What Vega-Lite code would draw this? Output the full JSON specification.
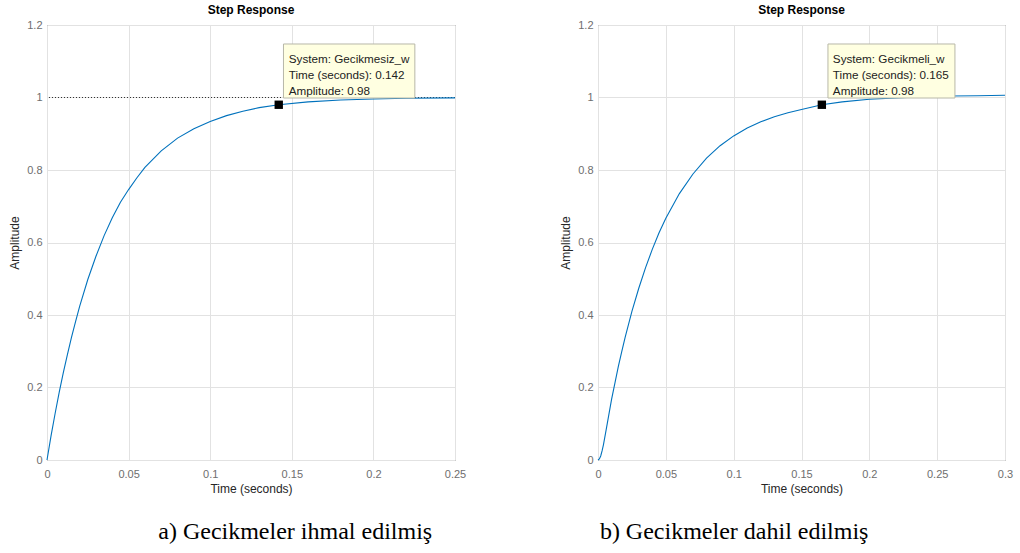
{
  "$schema": "https://vega.github.io/schema/vega-lite/v6.json",
  "background": "white",
  "padding": {"left": 8, "top": 3, "right": 5, "bottom": 5},
  "config": {
    "font": "Liberation Sans",
    "view": {"stroke": "#5a5a5a", "strokeWidth": 1},
    "axis": {
      "labelFont": "Liberation Sans",
      "labelFontSize": 11,
      "labelColor": "#6e6e6e",
      "labelFlush": false,
      "labelOverlap": false,
      "titleFont": "Liberation Sans",
      "titleFontSize": 12,
      "titleFontWeight": "normal",
      "titleColor": "#262626",
      "gridColor": "#e2e2e2",
      "gridWidth": 1,
      "domain": false,
      "ticks": false
    },
    "axisX": {"labelPadding": 8, "titlePadding": 4},
    "axisY": {"labelPadding": 5, "titlePadding": 5}
  },
  "datasets": {
    "left": [
      {"t": 0, "amp": 0}, {"t": 0.0025, "amp": 0.067}, {"t": 0.005, "amp": 0.129}, {"t": 0.0075, "amp": 0.187},
      {"t": 0.01, "amp": 0.241}, {"t": 0.0125, "amp": 0.291}, {"t": 0.015, "amp": 0.338}, {"t": 0.0175, "amp": 0.382},
      {"t": 0.02, "amp": 0.424}, {"t": 0.025, "amp": 0.498}, {"t": 0.03, "amp": 0.562}, {"t": 0.035, "amp": 0.619},
      {"t": 0.04, "amp": 0.668}, {"t": 0.045, "amp": 0.711}, {"t": 0.05, "amp": 0.746}, {"t": 0.055, "amp": 0.778},
      {"t": 0.06, "amp": 0.807}, {"t": 0.07, "amp": 0.853}, {"t": 0.08, "amp": 0.888}, {"t": 0.09, "amp": 0.914},
      {"t": 0.1, "amp": 0.934}, {"t": 0.11, "amp": 0.95}, {"t": 0.12, "amp": 0.962}, {"t": 0.13, "amp": 0.972},
      {"t": 0.142, "amp": 0.98}, {"t": 0.16, "amp": 0.988}, {"t": 0.18, "amp": 0.993}, {"t": 0.2, "amp": 0.996},
      {"t": 0.22, "amp": 0.998}, {"t": 0.25, "amp": 0.999}
    ],
    "right": [
      {"t": 0, "amp": 0}, {"t": 0.001, "amp": 0.003}, {"t": 0.002, "amp": 0.011}, {"t": 0.003, "amp": 0.025},
      {"t": 0.004, "amp": 0.042}, {"t": 0.006, "amp": 0.083}, {"t": 0.008, "amp": 0.125}, {"t": 0.01, "amp": 0.167},
      {"t": 0.0125, "amp": 0.213}, {"t": 0.015, "amp": 0.258}, {"t": 0.0175, "amp": 0.299}, {"t": 0.02, "amp": 0.338},
      {"t": 0.025, "amp": 0.41}, {"t": 0.03, "amp": 0.473}, {"t": 0.035, "amp": 0.53}, {"t": 0.04, "amp": 0.581},
      {"t": 0.045, "amp": 0.627}, {"t": 0.05, "amp": 0.667}, {"t": 0.06, "amp": 0.735}, {"t": 0.07, "amp": 0.789},
      {"t": 0.08, "amp": 0.833}, {"t": 0.09, "amp": 0.867}, {"t": 0.1, "amp": 0.894}, {"t": 0.11, "amp": 0.916},
      {"t": 0.12, "amp": 0.933}, {"t": 0.13, "amp": 0.947}, {"t": 0.14, "amp": 0.958}, {"t": 0.15, "amp": 0.967},
      {"t": 0.165, "amp": 0.98}, {"t": 0.18, "amp": 0.988}, {"t": 0.2, "amp": 0.995}, {"t": 0.22, "amp": 0.999},
      {"t": 0.24, "amp": 1.002}, {"t": 0.26, "amp": 1.004}, {"t": 0.28, "amp": 1.005}, {"t": 0.3, "amp": 1.006}
    ],
    "ss_left": [{"amp": 1}],
    "tip_left": [{"t": 0.142, "amp": 0.98, "label": "System: Gecikmesiz_w\nTime (seconds): 0.142\nAmplitude: 0.98"}],
    "tip_right": [{"t": 0.165, "amp": 0.98, "label": "System: Gecikmeli_w\nTime (seconds): 0.165\nAmplitude: 0.98"}],
    "box_left": [{"t0": 0.1449, "t1": 0.2254, "a0": 0.9986, "a1": 1.1476}],
    "box_right": [{"t0": 0.1695, "t1": 0.2631, "a0": 0.9986, "a1": 1.1476}]
  },
  "spacing": 92,
  "hconcat": [
    {
      "title": {"text": "a) Gecikmeler ihmal edilmiş", "orient": "bottom", "font": "Liberation Serif", "fontSize": 24, "fontWeight": "normal", "color": "#000000", "dx": 58, "offset": 25, "anchor": "middle"},
      "vconcat": [
        {
          "width": 408,
          "height": 435,
          "title": {"text": "Step Response", "fontSize": 12, "fontWeight": "bold", "color": "#000000", "offset": 2, "anchor": "middle"},
          "layer": [
            {
              "data": {"name": "ss_left"},
              "mark": {"type": "rule", "color": "#333333", "strokeWidth": 1, "strokeDash": [1, 2]},
              "encoding": {"y": {"field": "amp", "type": "quantitative"}}
            },
            {
              "data": {"name": "left"},
              "mark": {"type": "line", "color": "#0072BD", "strokeWidth": 1.1},
              "encoding": {
                "x": {"field": "t", "type": "quantitative", "scale": {"domain": [0, 0.25], "nice": false, "zero": false},
                  "axis": {"title": "Time (seconds)", "values": [0, 0.05, 0.1, 0.15, 0.2, 0.25], "format": "~g"}},
                "y": {"field": "amp", "type": "quantitative", "scale": {"domain": [0, 1.2], "nice": false},
                  "axis": {"title": "Amplitude", "values": [0, 0.2, 0.4, 0.6, 0.8, 1, 1.2], "format": "~g"}}
              }
            },
            {
              "data": {"name": "box_left"},
              "mark": {"type": "rect", "fill": "#FFFFE1", "stroke": "#b8b8a8", "strokeWidth": 1},
              "encoding": {
                "x": {"field": "t0", "type": "quantitative"}, "x2": {"field": "t1"},
                "y": {"field": "a0", "type": "quantitative"}, "y2": {"field": "a1"}
              }
            },
            {
              "data": {"name": "tip_left"},
              "mark": {"type": "point", "shape": "square", "filled": true, "color": "#000000", "size": 70, "opacity": 1},
              "encoding": {"x": {"field": "t", "type": "quantitative"}, "y": {"field": "amp", "type": "quantitative"}}
            },
            {
              "data": {"name": "tip_left"},
              "mark": {"type": "text", "align": "left", "baseline": "top", "dx": 10, "dy": -51, "lineBreak": "\n", "lineHeight": 16, "fontSize": 11.7, "font": "Liberation Sans", "color": "#222222"},
              "encoding": {"x": {"field": "t", "type": "quantitative"}, "y": {"field": "amp", "type": "quantitative"}, "text": {"field": "label"}}
            }
          ]
        }
      ]
    },
    {
      "title": {"text": "b) Gecikmeler dahil edilmiş", "orient": "bottom", "font": "Liberation Serif", "fontSize": 24, "fontWeight": "normal", "color": "#000000", "dx": -52, "offset": 25, "anchor": "middle"},
      "vconcat": [
        {
          "width": 407,
          "height": 435,
          "title": {"text": "Step Response", "fontSize": 12, "fontWeight": "bold", "color": "#000000", "offset": 2, "anchor": "middle"},
          "layer": [
            {
              "data": {"name": "right"},
              "mark": {"type": "line", "color": "#0072BD", "strokeWidth": 1.1},
              "encoding": {
                "x": {"field": "t", "type": "quantitative", "scale": {"domain": [0, 0.3], "nice": false, "zero": false},
                  "axis": {"title": "Time (seconds)", "values": [0, 0.05, 0.1, 0.15, 0.2, 0.25, 0.3], "format": "~g"}},
                "y": {"field": "amp", "type": "quantitative", "scale": {"domain": [0, 1.2], "nice": false},
                  "axis": {"title": "Amplitude", "values": [0, 0.2, 0.4, 0.6, 0.8, 1, 1.2], "format": "~g"}}
              }
            },
            {
              "data": {"name": "box_right"},
              "mark": {"type": "rect", "fill": "#FFFFE1", "stroke": "#b8b8a8", "strokeWidth": 1},
              "encoding": {
                "x": {"field": "t0", "type": "quantitative"}, "x2": {"field": "t1"},
                "y": {"field": "a0", "type": "quantitative"}, "y2": {"field": "a1"}
              }
            },
            {
              "data": {"name": "tip_right"},
              "mark": {"type": "point", "shape": "square", "filled": true, "color": "#000000", "size": 70, "opacity": 1},
              "encoding": {"x": {"field": "t", "type": "quantitative"}, "y": {"field": "amp", "type": "quantitative"}}
            },
            {
              "data": {"name": "tip_right"},
              "mark": {"type": "text", "align": "left", "baseline": "top", "dx": 11, "dy": -51, "lineBreak": "\n", "lineHeight": 16, "fontSize": 11.7, "font": "Liberation Sans", "color": "#222222"},
              "encoding": {"x": {"field": "t", "type": "quantitative"}, "y": {"field": "amp", "type": "quantitative"}, "text": {"field": "label"}}
            }
          ]
        }
      ]
    }
  ]
}
